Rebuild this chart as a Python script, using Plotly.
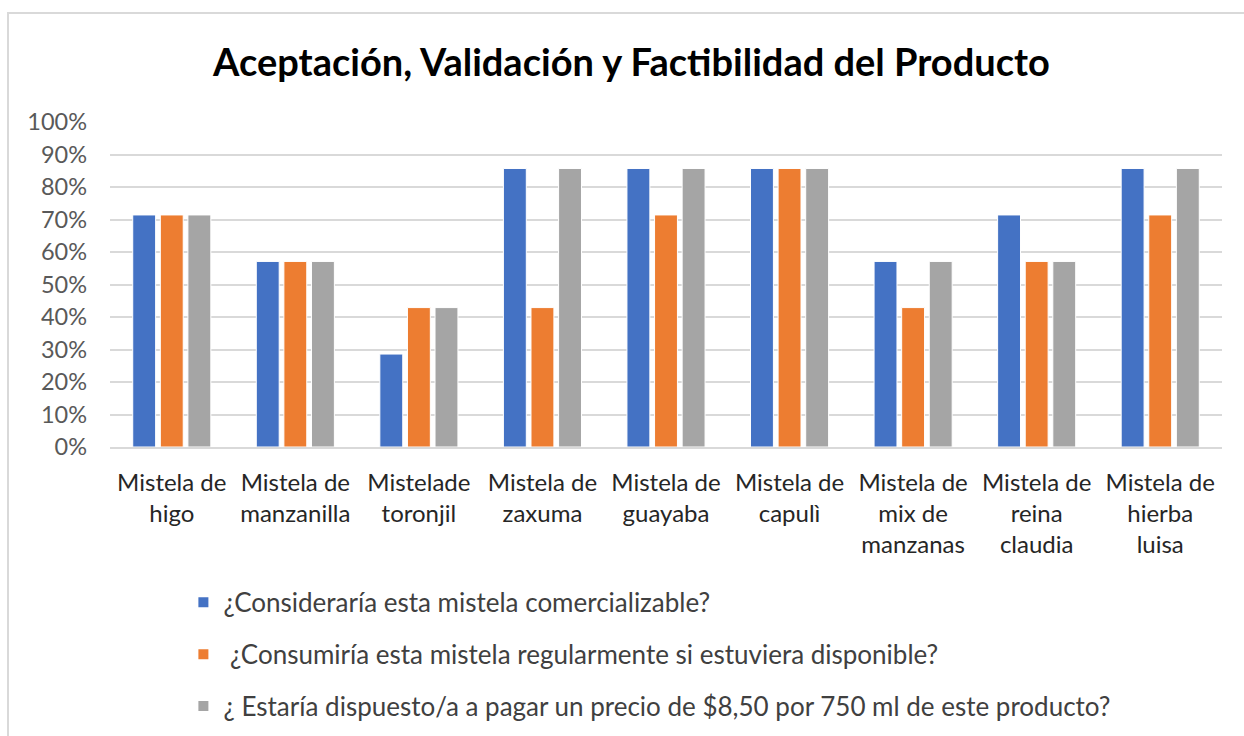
import plotly.graph_objects as go

categories = [
    "Mistela de<br>higo",
    "Mistela de<br>manzanilla",
    "Mistelade<br>toronjil",
    "Mistela de<br>zaxuma",
    "Mistela de<br>guayaba",
    "Mistela de<br>capulì",
    "Mistela de<br>mix de<br>manzanas",
    "Mistela de<br>reina<br>claudia",
    "Mistela de<br>hierba<br>luisa",
]

series_names = [
    "¿Consideraría esta mistela comercializable?",
    " ¿Consumiría esta mistela regularmente si estuviera disponible?",
    "¿ Estaría dispuesto/a a pagar un precio de $8,50 por 750 ml de este producto?",
]

comercializable = [0.714, 0.571, 0.286, 0.857, 0.857, 0.857, 0.571, 0.714, 0.857]
consumiria = [0.714, 0.571, 0.429, 0.429, 0.714, 0.857, 0.429, 0.571, 0.714]
pagaria = [0.714, 0.571, 0.429, 0.857, 0.857, 0.857, 0.571, 0.571, 0.857]

colors = ["#4472C4", "#ED7D31", "#A5A5A5"]

fig = go.Figure()
for i, (name, vals) in enumerate(zip(series_names, [comercializable, consumiria, pagaria])):
    fig.add_trace(go.Bar(
        x=categories, y=vals, name=name,
        marker=dict(color=colors[i], line=dict(color="white", width=1)),
        legendgroup=f"g{i}",
    ))

fig.update_layout(
    width=1244, height=736,
    margin=dict(l=110, r=22, t=122, b=289, autoexpand=False),
    paper_bgcolor="white", plot_bgcolor="white",
    barmode="group", bargap=0.33, bargroupgap=0.17,
    font=dict(family="Lato", size=24, color="#404040"),
    title=dict(
        text="<b>Aceptación, Validación y Factibilidad del Producto</b>",
        x=0.5076, xref="container", xanchor="center",
        y=1 - 63 / 736, yref="container", yanchor="middle",
        font=dict(family="Lato", size=38, color="#000000"),
    ),
    legend=dict(
        orientation="v", x=0.066, xanchor="left", y=-0.406, yanchor="top",
        font=dict(family="Lato", size=26, color="#404040"),
        tracegroupgap=15, itemsizing="constant",
        bgcolor="rgba(0,0,0,0)",
    ),
    showlegend=True,
)

fig.update_yaxes(
    range=[0, 1], dtick=0.1, tickformat=".0%",
    showgrid=True, gridcolor="#D9D9D9", gridwidth=1.5,
    zeroline=False, showline=False,
    tickfont=dict(family="Lato", size=23.5, color="#595959"),
    ticklabelstandoff=22,
)
fig.update_xaxes(
    showgrid=False, showline=True, linecolor="#D9D9D9", linewidth=1.5,
    tickfont=dict(family="Lato", size=24, color="#262626"),
    ticklabelstandoff=13,
)

# chart area border
fig.add_shape(
    type="rect", xref="paper", yref="paper",
    x0=(8 - 110) / 1112, x1=(1260 - 110) / 1112,
    y0=(447 - 760) / 325, y1=(447 - 13) / 325,
    line=dict(color="#D9D9D9", width=2), fillcolor="rgba(0,0,0,0)", layer="below",
)

fig.write_html("out.html", config={"displayModeBar": False},
               post_script="document.body.style.margin='0';")
